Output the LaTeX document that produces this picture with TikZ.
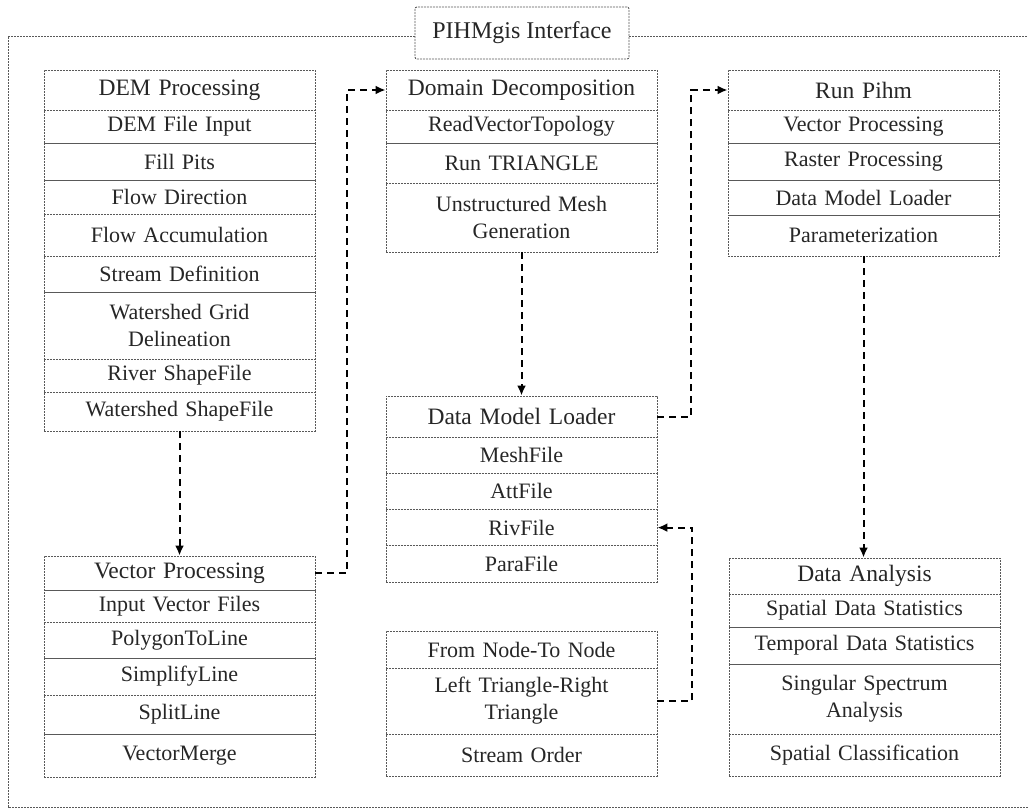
\documentclass[tikz,border=0pt]{standalone}
\usepackage{fontspec}
\setmainfont{Liberation Serif}
\usetikzlibrary{arrows.meta}

\tikzset{
  cell/.style={draw=black!65, line width=0.9pt, dash pattern=on 2pt off 1pt,
    minimum width=271pt, inner sep=0pt, text width=260pt, align=center,
    text=black!85, font=\fontsize{22}{27}\selectfont},
  head/.style={cell, font=\fontsize{23.5}{28}\selectfont},
  frame/.style={draw=black!65, line width=0.9pt, dash pattern=on 2pt off 1pt},
  link/.style={line width=2pt, dash pattern=on 7pt off 5pt, -{Latex[length=10pt,width=9pt]}}
}

\begin{document}
\begin{tikzpicture}[x=1pt,y=-1pt]
\useasboundingbox (0,0) rectangle (1028,810);

% title and outer frame
\node[frame, rounded corners=2pt, minimum width=214pt, minimum height=52pt, inner sep=0pt,
  text=black!85, font=\fontsize{24}{28}\selectfont] (title) at (522,33) {PIHMgis Interface};
\draw[frame] (title.west |- 0,36) -- (8,36) -- (8,807) -- (1040,807);
\draw[frame] (title.east |- 0,36) -- (1040,36);

% DEM processing
\node[head, minimum height=40pt] (dem0) at (179.5,90) {DEM Processing};
\node[cell, minimum height=33pt] (dem1) at (179.5,126.5) {DEM File Input};
\node[cell, minimum height=37pt] (dem2) at (179.5,161.5) {Fill Pits};
\node[cell, minimum height=34pt] (dem3) at (179.5,197) {Flow Direction};
\node[cell, minimum height=42pt] (dem4) at (179.5,235) {Flow Accumulation};
\node[cell, minimum height=36pt] (dem5) at (179.5,274) {Stream Definition};
\node[cell, minimum height=67pt] (dem6) at (179.5,325.5) {Watershed Grid\\Delineation};
\node[cell, minimum height=33pt] (dem7) at (179.5,375.5) {River ShapeFile};
\node[cell, minimum height=39pt] (dem8) at (179.5,411.5) {Watershed ShapeFile};

% vector processing
\node[head, minimum height=34pt] (vec0) at (179.5,573) {Vector Processing};
\node[cell, minimum height=32pt] (vec1) at (179.5,606) {Input Vector Files};
\node[cell, minimum height=36pt] (vec2) at (179.5,640) {PolygonToLine};
\node[cell, minimum height=37pt] (vec3) at (179.5,676.5) {SimplifyLine};
\node[cell, minimum height=39pt] (vec4) at (179.5,714.5) {SplitLine};
\node[cell, minimum height=43pt] (vec5) at (179.5,755.5) {VectorMerge};

% domain decomposition
\node[head, minimum height=40pt] (dd0) at (521.5,90) {Domain Decomposition};
\node[cell, minimum height=33pt] (dd1) at (521.5,126.5) {ReadVectorTopology};
\node[cell, minimum height=40pt] (dd2) at (521.5,163) {Run TRIANGLE};
\node[cell, minimum height=69pt] (dd3) at (521.5,217.5) {Unstructured Mesh\\Generation};

% data model loader
\node[head, minimum height=41pt] (dml0) at (521.5,416.5) {Data Model Loader};
\node[cell, minimum height=36.25pt] (dml1) at (521.5,455.1) {MeshFile};
\node[cell, minimum height=36.25pt] (dml2) at (521.5,491.4) {AttFile};
\node[cell, minimum height=36.25pt] (dml3) at (521.5,527.6) {RivFile};
\node[cell, minimum height=36.25pt] (dml4) at (521.5,563.9) {ParaFile};

% topology
\node[cell, minimum height=37pt] (topo0) at (521.5,649.5) {From Node-To Node};
\node[cell, minimum height=66pt] (topo1) at (521.5,701) {Left Triangle-Right\\Triangle};
\node[cell, minimum height=42pt] (topo2) at (521.5,755) {Stream Order};

% run pihm
\node[head, minimum height=40pt] (run0) at (863.5,90) {Run Pihm};
\node[cell, minimum height=33pt] (run1) at (863.5,126.5) {Vector Processing};
\node[cell, minimum height=37pt] (run2) at (863.5,161.5) {Raster Processing};
\node[cell, minimum height=35pt] (run3) at (863.5,197.5) {Data Model Loader};
\node[cell, minimum height=41pt] (run4) at (863.5,235.5) {Parameterization};

% data analysis
\node[head, minimum height=36pt] (da0) at (864.5,576) {Data Analysis};
\node[cell, minimum height=33pt] (da1) at (864.5,610.5) {Spatial Data Statistics};
\node[cell, minimum height=37pt] (da2) at (864.5,645.5) {Temporal Data Statistics};
\node[cell, minimum height=70pt] (da3) at (864.5,699) {Singular Spectrum\\Analysis};
\node[cell, minimum height=42pt] (da4) at (864.5,755) {Spatial Classification};

% connectors
\draw[link] (dem8.south) -- (vec0.north);
\draw[link] (vec0.east) -- ++(32,0) |- (dd0.west);
\draw[link] (dd3.south) -- (dml0.north);
\draw[link] (dml0.east) -- ++(34,0) |- (run0.west);
\draw[link] (run4.south) -- (run4.south |- da0.north);
\draw[link] (topo1.east) -- ++(35,0) |- (dml3.east);
\end{tikzpicture}
\end{document}
